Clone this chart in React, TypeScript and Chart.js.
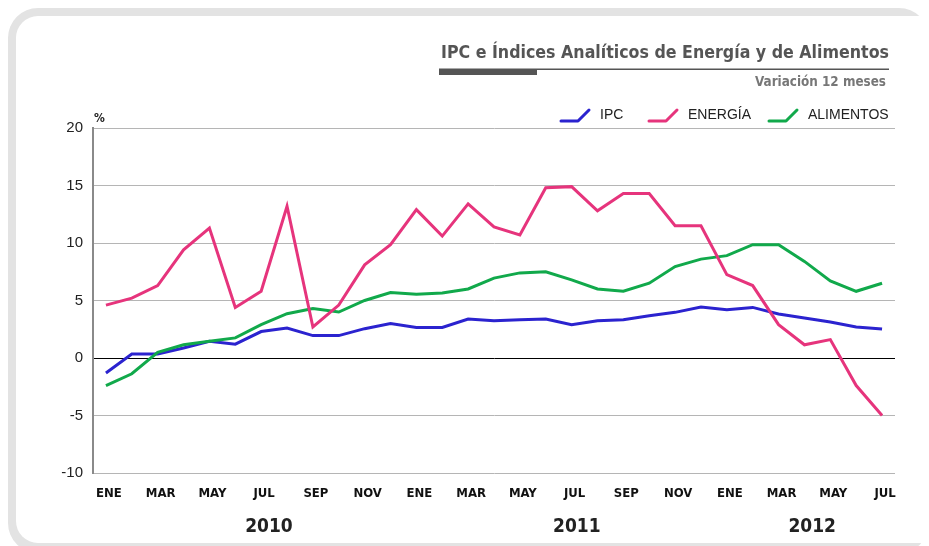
import React, { useEffect, useRef } from "react";
import { Chart, registerables } from "chart.js";

Chart.register(...registerables);

const categories = [
  "ENE", "FEB", "MAR", "ABR", "MAY", "JUN", "JUL", "AGO", "SEP", "OCT", "NOV", "DIC",
  "ENE", "FEB", "MAR", "ABR", "MAY", "JUN", "JUL", "AGO", "SEP", "OCT", "NOV", "DIC",
  "ENE", "FEB", "MAR", "ABR", "MAY", "JUN", "JUL",
];

const ipc = [
  -1.3, 0.35, 0.35, 0.87, 1.45, 1.2, 2.3, 2.6, 1.95, 1.95, 2.55, 3.0,
  2.66, 2.66, 3.39, 3.24, 3.33, 3.39, 2.9, 3.24, 3.33, 3.68, 3.97, 4.43,
  4.2, 4.4, 3.83, 3.48, 3.13, 2.7, 2.52,
];

const energia = [
  4.6, 5.2, 6.3, 9.4, 11.3, 4.4, 5.8, 13.2, 2.7, 4.6, 8.1, 9.85,
  12.9, 10.6, 13.4, 11.4, 10.7, 14.8, 14.9, 12.8, 14.3, 14.3, 11.5, 11.5,
  7.25, 6.3, 2.9, 1.15, 1.6, -2.4, -5.0,
];

const alimentos = [
  -2.4, -1.37, 0.5, 1.15, 1.45, 1.75, 2.9, 3.85, 4.3, 4.0, 5.0, 5.7,
  5.55, 5.65, 6.0, 6.95, 7.4, 7.5, 6.8, 6.0, 5.8, 6.5, 7.95, 8.6,
  8.9, 9.85, 9.85, 8.4, 6.7, 5.8, 6.5,
];

const yearLabels = ["2010", "2011", "2012"];
const yearPositions = [6.3, 18.2, 27.3]; // category index where each year label is centred

const seriesNames = ["IPC", "ENERGÍA", "ALIMENTOS"];
const seriesColors = ["#2b23cf", "#e6347c", "#11a94b"];

const TITLE = "IPC e Índices Analíticos de Energía y de Alimentos";
const SUBTITLE = "Variación 12 meses";

const COND = "'Liberation Sans Narrow', 'DejaVu Sans Condensed', 'Liberation Sans', Arial, sans-serif";
const SANS = "'Liberation Sans', Arial, sans-serif";

function fitText(ctx: CanvasRenderingContext2D, text: string, xRight: number, y: number, width: number) {
  const w = ctx.measureText(text).width;
  const s = width / w;
  ctx.save();
  ctx.translate(xRight - width, y);
  ctx.scale(s, 1);
  ctx.textAlign = "left";
  ctx.fillText(text, 0, 0);
  ctx.restore();
}

const decorPlugin = {
  id: "decor",
  afterDraw(chart: any) {
    const ctx: CanvasRenderingContext2D = chart.ctx;
    const xs = chart.scales.x;
    const ys = chart.scales.y;
    ctx.save();
    ctx.textBaseline = "alphabetic";

    // title
    ctx.fillStyle = "#555555";
    ctx.font = `bold 18px ${COND}`;
    fitText(ctx, TITLE, 889, 58, 448);
    // underline
    ctx.fillRect(439, 68.5, 450, 1.5);
    ctx.fillRect(439, 69, 98, 6);
    // subtitle
    ctx.fillStyle = "#777777";
    ctx.font = `bold 14px ${COND}`;
    fitText(ctx, SUBTITLE, 886, 86, 131);

    // percent sign
    ctx.fillStyle = "#222";
    ctx.font = `bold 12px ${COND}`;
    ctx.textAlign = "left";
    ctx.fillText("%", ys.right + 1, 122);

    // legend
    const legendX = [560, 648, 768];
    ctx.font = `14px ${SANS}`;
    seriesNames.forEach((name, i) => {
      const x0 = legendX[i];
      ctx.strokeStyle = seriesColors[i];
      ctx.lineWidth = 3;
      ctx.lineJoin = "round";
      ctx.lineCap = "round";
      ctx.beginPath();
      ctx.moveTo(x0 + 1, 121);
      ctx.lineTo(x0 + 18, 121);
      ctx.lineTo(x0 + 29, 110);
      ctx.stroke();
      ctx.fillStyle = "#222";
      ctx.textAlign = "left";
      ctx.fillText(name, x0 + 40, 118.5);
    });

    // years
    ctx.fillStyle = "#222";
    ctx.font = `bold 19px ${COND}`;
    ctx.textAlign = "center";
    const step = xs.getPixelForValue(1) - xs.getPixelForValue(0);
    yearLabels.forEach((lab, i) => {
      const p = yearPositions[i];
      const base = Math.floor(p);
      const px = xs.getPixelForValue(base) + (p - base) * step;
      ctx.fillText(lab, px, 532);
    });
    ctx.restore();
  },
};

export default function App() {
  const ref = useRef<HTMLCanvasElement | null>(null);

  useEffect(() => {
    document.body.style.margin = "0";
    const canvas = ref.current;
    if (!canvas) return;
    const datasets = [ipc, energia, alimentos].map((d, i) => ({
      label: seriesNames[i],
      data: d,
      borderColor: seriesColors[i],
      backgroundColor: seriesColors[i],
      borderWidth: 3,
      pointRadius: 0,
      tension: 0,
      fill: false,
      order: [3, 1, 2][i],
    }));
    const chart = new Chart(canvas, {
      type: "line",
      data: { labels: categories, datasets },
      options: {
        responsive: false,
        animation: false,
        layout: { padding: { top: 128, right: 34, bottom: 0, left: 20 } },
        plugins: { legend: { display: false }, tooltip: { enabled: false }, title: { display: false } },
        scales: {
          x: {
            offset: true,
            grid: { display: false, drawTicks: false },
            border: { display: false },
            ticks: {
              autoSkip: false,
              maxRotation: 0,
              padding: 13,
              labelOffset: 3,
              color: "#111",
              font: { family: COND, size: 13, weight: "bold" },
              callback: (_v: any, idx: number) => (idx % 2 === 0 ? categories[idx] : ""),
            },
            afterFit: (s: any) => { s.height = 73; },
          },
          y: {
            min: -10,
            max: 20,
            grid: {
              drawTicks: false,
              color: (c: any) => (c.tick && c.tick.value === 0 ? "#000000" : "#b5b5b5"),
              lineWidth: 1,
            },
            border: { display: true, color: "#8a8a8a", width: 2 },
            ticks: {
              stepSize: 5,
              padding: 10,
              color: "#222",
              font: { family: SANS, size: 15 },
            },
            afterFit: (s: any) => { s.width = 73; },
          },
        },
      },
      plugins: [decorPlugin],
    });
    return () => chart.destroy();
  }, []);

  return (
    <div style={{ position: "relative", width: 929, height: 546, overflow: "hidden", background: "#fff" }}>
      <div style={{ position: "absolute", left: 8, top: 8, width: 921, height: 545, borderRadius: 30, background: "#e3e3e3" }} />
      <div style={{ position: "absolute", left: 16, top: 16, width: 940, height: 527, borderRadius: 22, background: "#ffffff" }} />
      <canvas ref={ref} width={929} height={546} style={{ position: "absolute", left: 0, top: 0 }} />
    </div>
  );
}
